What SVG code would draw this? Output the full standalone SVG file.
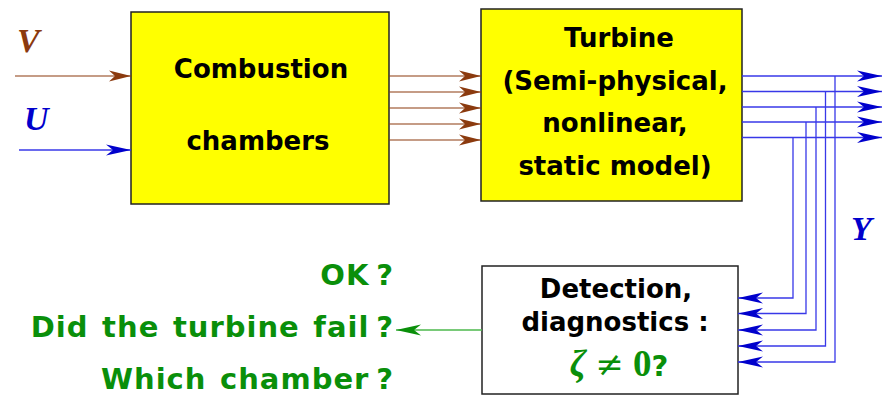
<svg xmlns="http://www.w3.org/2000/svg" width="894" height="395" viewBox="0 0 894 395">
  <style>
    .box { fill: #ffff00; stroke: #222; stroke-width: 1.5; }
    .wbox { fill: #ffffff; stroke: #222; stroke-width: 1.5; }
    .lbl { font-family: "DejaVu Sans", sans-serif; font-weight: bold; font-size: 26px; fill: #000; text-anchor: middle; }
    .q { font-family: "DejaVu Sans", sans-serif; font-weight: bold; font-size: 29px; fill: #0a8f0a; text-anchor: end; letter-spacing: 1px; word-spacing: 2.5px; }
    .sym { font-family: "Liberation Serif", serif; font-weight: bold; font-style: italic; font-size: 34px; }
    .brown { stroke: #8b3a0e; stroke-width: 1.2; fill: none; }
    .blue { stroke: #3838e8; stroke-width: 1.3; fill: none; }
    .green { stroke: #4cb84c; stroke-width: 1.5; fill: none; }
  </style>
  <defs>
    <marker id="ahBrown" markerUnits="userSpaceOnUse" markerWidth="30" markerHeight="16" viewBox="-26 -8 30 16" refX="0" refY="0" orient="auto">
      <path d="M0,0 L-22,-5.5 L-16,0 L-22,5.5 Z" fill="#8b3a0e"/>
    </marker>
    <marker id="ahBlue" markerUnits="userSpaceOnUse" markerWidth="30" markerHeight="16" viewBox="-26 -8 30 16" refX="0" refY="0" orient="auto">
      <path d="M0,0 L-25,-5.5 L-18,0 L-25,5.5 Z" fill="#0000cc"/>
    </marker>
    <marker id="ahGreen" markerUnits="userSpaceOnUse" markerWidth="30" markerHeight="16" viewBox="-26 -8 30 16" refX="0" refY="0" orient="auto">
      <path d="M0,0 L-25,-5.5 L-18,0 L-25,5.5 Z" fill="#0a8f0a"/>
    </marker>
  </defs>

  <!-- input and output labels -->
  <text class="sym" x="17" y="52" fill="#8b3a0e">V</text>
  <text class="sym" x="24" y="130" fill="#0000cc">U</text>
  <text class="sym" x="851" y="240" fill="#0000cc">Y</text>

  <g id="combustion">
    <rect class="box" x="131" y="12" width="258" height="192"/>
    <text class="lbl" x="261" y="78">Combustion</text>
    <text class="lbl" x="258" y="150">chambers</text>
  </g>

  <g id="turbine">
    <rect class="box" x="481" y="9" width="261" height="192"/>
    <text class="lbl" x="619" y="47">Turbine</text>
    <text class="lbl" x="615" y="90">(Semi-physical,</text>
    <text class="lbl" x="615" y="132">nonlinear,</text>
    <text class="lbl" x="615" y="175">static model)</text>
  </g>

  <g id="detection">
    <rect class="wbox" x="482" y="266" width="256" height="128"/>
    <text class="lbl" x="616" y="298">Detection,</text>
    <text class="lbl" x="615" y="331">diagnostics :</text>
    <text x="619" y="376" text-anchor="middle" fill="#0a8f0a" font-size="37px" font-family="Liberation Serif, serif"><tspan font-style="italic" font-weight="bold">ζ</tspan> <tspan font-family="DejaVu Serif, serif" font-size="34px">≠</tspan> <tspan font-weight="bold">0</tspan><tspan font-family="DejaVu Sans, sans-serif" font-weight="bold" font-size="29px">?</tspan></text>
  </g>

  <g id="questions">
    <text class="q" x="394" y="285">OK&#8201;?</text>
    <text class="q" x="394" y="337">Did the turbine fail&#8201;?</text>
    <text class="q" x="394" y="389">Which chamber&#8201;?</text>
  </g>

  <g id="connectors">
    <!-- inputs -->
    <line class="brown" x1="15" y1="76" x2="131" y2="76" marker-end="url(#ahBrown)"/>
    <line class="blue" x1="19" y1="150" x2="131" y2="150" marker-end="url(#ahBlue)"/>
    <!-- chambers to turbine -->
    <line class="brown" x1="389" y1="76" x2="481" y2="76" marker-end="url(#ahBrown)"/>
    <line class="brown" x1="389" y1="92" x2="481" y2="92" marker-end="url(#ahBrown)"/>
    <line class="brown" x1="389" y1="108" x2="481" y2="108" marker-end="url(#ahBrown)"/>
    <line class="brown" x1="389" y1="124" x2="481" y2="124" marker-end="url(#ahBrown)"/>
    <line class="brown" x1="389" y1="140" x2="481" y2="140" marker-end="url(#ahBrown)"/>
    <!-- turbine outputs -->
    <line class="blue" x1="742" y1="76" x2="882" y2="76" marker-end="url(#ahBlue)"/>
    <line class="blue" x1="742" y1="91.5" x2="882" y2="91.5" marker-end="url(#ahBlue)"/>
    <line class="blue" x1="742" y1="107" x2="882" y2="107" marker-end="url(#ahBlue)"/>
    <line class="blue" x1="742" y1="122" x2="882" y2="122" marker-end="url(#ahBlue)"/>
    <line class="blue" x1="742" y1="137.5" x2="882" y2="137.5" marker-end="url(#ahBlue)"/>
    <!-- feedback taps to detection -->
    <polyline class="blue" points="835,76 835,362 738,362" marker-end="url(#ahBlue)"/>
    <polyline class="blue" points="825.5,91.5 825.5,346 738,346" marker-end="url(#ahBlue)"/>
    <polyline class="blue" points="816,107 816,330 738,330" marker-end="url(#ahBlue)"/>
    <polyline class="blue" points="806,122 806,313.5 738,313.5" marker-end="url(#ahBlue)"/>
    <polyline class="blue" points="793,137.5 793,298 738,298" marker-end="url(#ahBlue)"/>
    <!-- diagnosis output -->
    <line class="green" x1="482" y1="330" x2="396" y2="330" marker-end="url(#ahGreen)"/>
  </g>
</svg>
